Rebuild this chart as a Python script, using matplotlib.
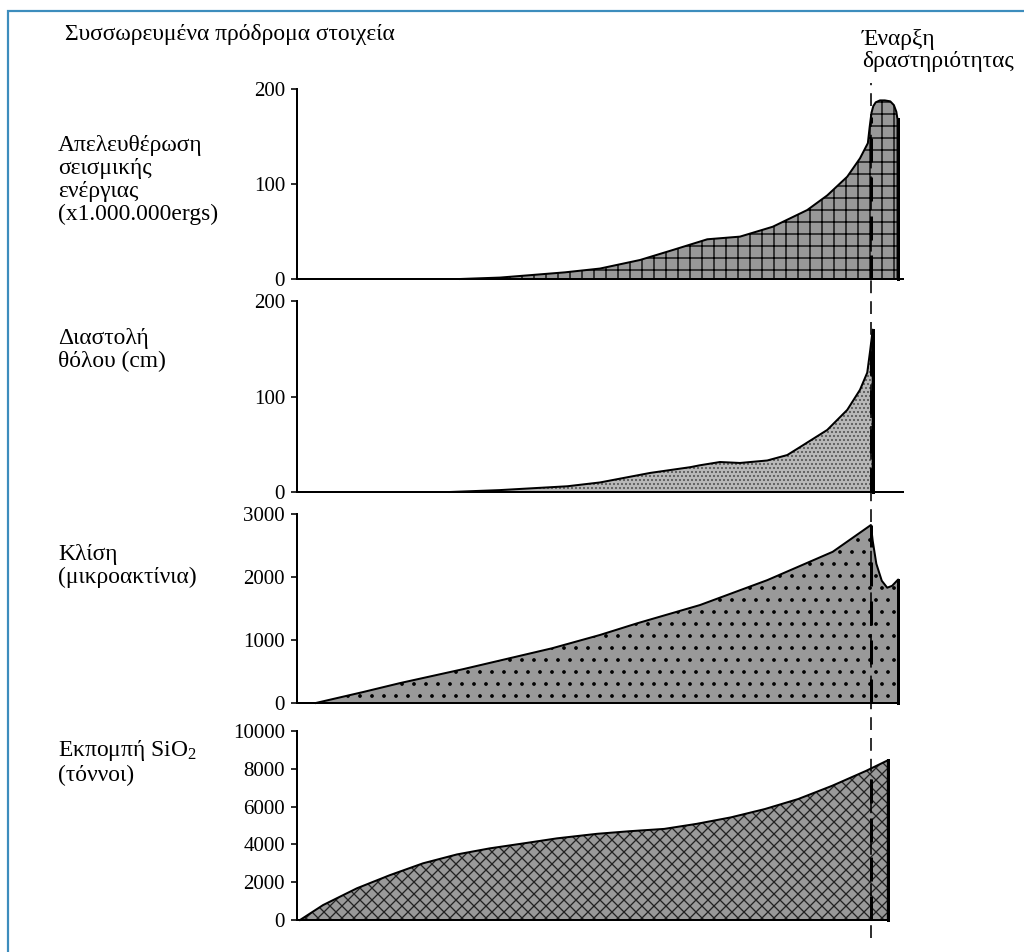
import matplotlib
matplotlib.use("Agg")
import numpy as np
import matplotlib.pyplot as plt
from matplotlib.patches import Rectangle

plt.rcParams["font.family"] = ["Liberation Serif", "DejaVu Serif"]
plt.rcParams["mathtext.fontset"] = "custom"
plt.rcParams["mathtext.rm"] = "Liberation Serif"
plt.rcParams["mathtext.it"] = "Liberation Serif:italic"
plt.rcParams["hatch.linewidth"] = 1.3

# time axis in arbitrary units (0..100), vertical dashed line = onset of activity
ONSET = 94.7

# seismic energy release (x1.000.000 ergs)
seis_x = [26.9, 33.5, 38.4, 44.2, 50.0, 56.6, 62.0, 67.7, 73.1, 78.5, 84.2, 87.5,
          90.8, 92.9, 94.2, 94.5, 94.8, 95.1, 95.5, 96.2, 97.0, 97.9, 98.5, 98.9, 99.1]
seis_y = [0, 1.5, 4, 7, 11, 20, 30.5, 41.8, 44.6, 55, 72.6, 88,
          107.7, 127, 143, 160, 175, 182, 186, 188, 188, 187, 183, 176, 168]

# dome expansion (cm)
dome_x = [25.2, 33.5, 44.6, 50.0, 58.3, 64.9, 66.5, 69.8, 73.1, 77.6, 80.9, 83.0,
          87.5, 90.8, 92.9, 94.1, 94.6, 95.0]
dome_y = [0, 2, 6, 10, 20, 26, 28, 31.4, 30.4, 33, 38.7, 47,
          65, 86, 107, 125, 149, 170]

# tilt (microradians)
tilt_x = [3.1, 10.9, 17.0, 27.4, 42.1, 50.0, 56.1, 66.5, 77.6, 88.4, 94.7,
          95.0, 95.6, 96.5, 97.4, 98.2, 99.2]
tilt_y = [0, 174, 316, 537, 869, 1080, 1264, 1555, 1950, 2400, 2825,
          2575, 2210, 1940, 1830, 1860, 1960]

# SiO2 emission (tonnes)
sio2_x = [0.5, 4.3, 9.9, 15.3, 20.8, 26.4, 31.8, 37.3, 42.9, 49.5, 55.0, 60.6,
          66.0, 71.6, 77.2, 82.7, 88.3, 93.9, 97.5]
sio2_y = [0, 790, 1680, 2370, 3000, 3470, 3790, 4050, 4320, 4560, 4700, 4820,
          5090, 5430, 5870, 6400, 7100, 7890, 8450]

panels = [
    ("Απελευθέρωση\nσεισμικής\nενέργιας\n(x1.000.000ergs)", seis_x, seis_y, [0, 100, 200], 200, "+", "#999999", "black"),
    ("Διαστολή\nθόλου (cm)", dome_x, dome_y, [0, 100, 200], 200, "...", "#b8b8b8", "#555555"),
    ("Κλίση\n(μικροακτίνια)", tilt_x, tilt_y, [0, 1000, 2000, 3000], 3000, ".", "#999999", "black"),
    ("Εκπομπή SiO$_2$\n(τόννοι)", sio2_x, sio2_y, [0, 2000, 4000, 6000, 8000, 10000], 10000, "xx", "#999999", "#222222"),
]
# pixel rows of (top, bottom) of each panel and top of its label
rows = [(89, 279, 135), (301, 492, 328), (514, 703, 544), (731, 920, 738)]

W, H = 1024, 952
DPI = 72
fig = plt.figure(figsize=(W / DPI, H / DPI), dpi=DPI)
fig.patch.set_facecolor("white")

# thin blue frame around the figure
fig.patches.append(Rectangle((8 / W, -0.1), 1.2, 1 - 11 / H + 0.1, transform=fig.transFigure,
                             fill=False, edgecolor="#3d8dbd", linewidth=2.2))

X0, X1 = 297, 903
axes = []
for (label, xs, ys, ticks, ymax, hatch, face, hcol), (top, bot, ltop) in zip(panels, rows):
    ax = fig.add_axes([X0 / W, 1 - bot / H, (X1 - X0) / W, (bot - top) / H])
    ax.set_xlim(0, 100)
    ax.set_ylim(0, ymax)
    xfill = xs + [xs[-1]]
    yfill = ys + [0]
    ax.fill_between(xfill, yfill, 0, facecolor=face, edgecolor=hcol, hatch=hatch, linewidth=0)
    ax.plot(xfill, yfill, color="black", lw=2.0, solid_joinstyle="round", clip_on=False)
    ax.plot([xs[-1], xs[-1]], [ys[-1], 0], color="black", lw=3.0, clip_on=False)
    # heavier dashes where the onset line crosses the filled area
    h = np.interp(ONSET, xs, ys)
    ax.plot([ONSET, ONSET], [0, h], color="black", lw=3.0, dashes=(8, 5), zorder=4)
    for s in ["top", "right"]:
        ax.spines[s].set_visible(False)
    ax.spines["left"].set_linewidth(2)
    ax.spines["bottom"].set_linewidth(2)
    if ymax >= 3000:
        ax.spines["bottom"].set_bounds(0, xs[-1])
    ax.set_xticks([])
    ax.set_yticks(ticks)
    ax.set_yticklabels([str(t) for t in ticks])
    ax.tick_params(axis="y", direction="out", length=6, width=1.6, pad=6, labelsize=21)
    ax.patch.set_alpha(0)
    fig.text(58 / W, 1 - ltop / H, label, ha="left", va="top", fontsize=23.5, linespacing=1.12)
    axes.append(ax)

# dashed line marking the onset of activity, across all panels
ax1 = axes[0]
ax1.set_zorder(10)
ymin_frac = (279 - 938) / (279 - 89)
ymax_frac = (279 - 83) / (279 - 89)
ax1.axvline(ONSET, ymin=ymin_frac, ymax=ymax_frac, color="black", lw=1.6,
            dashes=(8, 5), clip_on=False)

fig.text(65 / W, 1 - 24 / H, "Συσσωρευμένα πρόδρομα στοιχεία", ha="left", va="top", fontsize=23.5)
fig.text(862 / W, 1 - 29 / H, "Έναρξη\nδραστηριότητας", ha="left", va="top", fontsize=23.5,
         linespacing=1.05)

fig.savefig("out.png", dpi=DPI, facecolor="white")
